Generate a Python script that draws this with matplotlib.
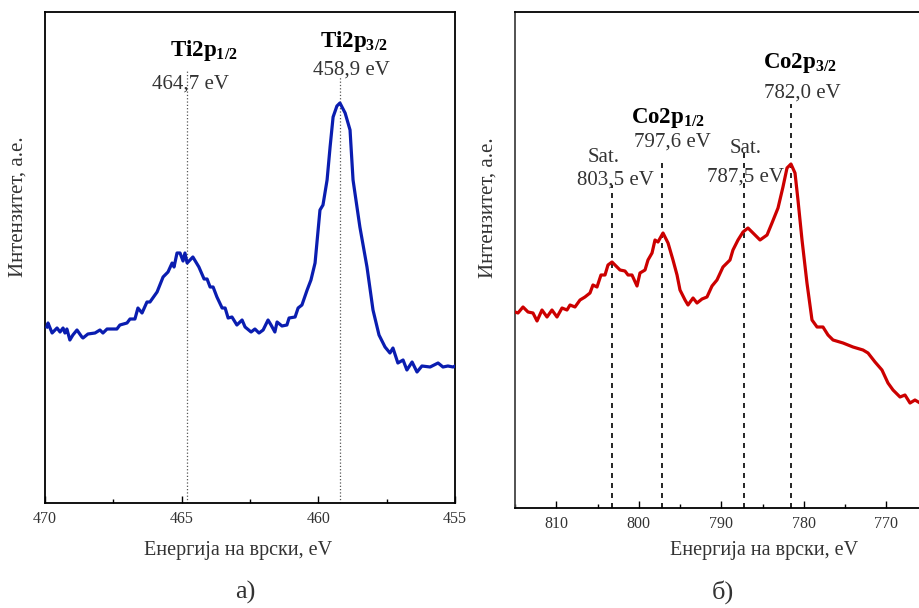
import matplotlib
matplotlib.use('Agg')
import matplotlib.pyplot as plt
from matplotlib.ticker import MultipleLocator

plt.rcParams['font.family'] = ['Liberation Serif', 'DejaVu Serif']
plt.rcParams['mathtext.fontset'] = 'custom'
plt.rcParams['mathtext.rm'] = 'Liberation Serif'
plt.rcParams['mathtext.bf'] = 'Liberation Serif:bold'

# Ti2p spectrum (binding energy, eV / intensity, a.u.)
ti_energy = [469.93, 469.89, 469.74, 469.56, 469.45, 469.34, 469.27, 469.20, 469.09, 468.98,
             468.83, 468.65, 468.61, 468.43, 468.17, 467.99, 467.88, 467.73, 467.37, 467.26,
             467.00, 466.89, 466.71, 466.60, 466.45, 466.27, 466.16, 465.90, 465.68, 465.50,
             465.35, 465.28, 465.17, 465.06, 464.95, 464.88, 464.80, 464.59, 464.37, 464.18,
             464.07, 463.96, 463.85, 463.71, 463.52, 463.41, 463.30, 463.16, 462.98, 462.79,
             462.68, 462.46, 462.32, 462.17, 462.02, 461.84, 461.73, 461.59, 461.51, 461.33,
             461.15, 461.07, 460.85, 460.74, 460.60, 460.41, 460.27, 460.12, 459.94, 459.83,
             459.68, 459.57, 459.46, 459.32, 459.21, 459.02, 458.84, 458.73, 458.48, 458.22,
             458.00, 457.78, 457.56, 457.38, 457.27, 457.09, 456.90, 456.76, 456.57, 456.39,
             456.21, 455.91, 455.62, 455.44, 455.26, 455.07, 455.00]
ti_counts = [176, 180, 170, 175, 171, 175, 170, 174, 163, 168,
             173, 166, 165, 169, 170, 173, 170, 174, 174, 178,
             180, 184, 184, 195, 190, 201, 201, 211, 226, 231,
             240, 236, 250, 250, 242, 250, 240, 246, 236, 224,
             224, 216, 216, 206, 195, 195, 185, 186, 178, 183,
             176, 171, 174, 170, 173, 183, 178, 171, 181, 177,
             178, 185, 186, 195, 198, 213, 223, 240, 293, 298,
             323, 356, 386, 397, 400, 390, 373, 323, 276, 236,
             193, 168, 156, 150, 155, 140, 143, 133, 141, 131,
             137, 136, 140, 136, 137, 136, 137]

# Co2p spectrum
co_energy = [815.00, 814.64, 814.03, 813.42, 812.82, 812.33, 811.73, 811.12, 810.52, 809.91,
             809.30, 808.70, 808.33, 807.73, 807.12, 806.52, 805.91, 805.55, 805.06, 804.58,
             804.09, 803.73, 803.24, 802.88, 802.27, 801.67, 801.30, 800.82, 800.21, 799.85,
             799.24, 798.88, 798.39, 798.03, 797.67, 797.06, 796.45, 795.85, 795.36, 795.00,
             794.39, 794.03, 793.42, 792.94, 792.33, 791.73, 791.12, 790.52, 789.79, 788.94,
             788.58, 787.97, 787.36, 786.76, 786.15, 785.30, 784.45, 783.85, 783.12, 782.52,
             782.03, 781.55, 781.06, 780.70, 780.21, 779.61, 779.00, 778.39, 777.67, 777.06,
             776.45, 775.24, 774.03, 772.82, 772.21, 771.36, 770.52, 769.79, 769.18, 768.33,
             767.73, 767.12, 766.52, 765.91]
co_counts = [196, 195, 201, 196, 195, 187, 198, 191, 198, 191,
             200, 198, 203, 201, 208, 211, 215, 223, 221, 233,
             233, 243, 246, 243, 238, 237, 233, 233, 222, 235,
             238, 248, 255, 268, 266, 275, 265, 248, 233, 218,
             208, 203, 210, 205, 209, 211, 222, 228, 241, 248,
             258, 268, 276, 280, 275, 268, 273, 285, 300, 321,
             340, 344, 335, 308, 268, 225, 188, 181, 181, 173,
             168, 165, 161, 158, 155, 146, 138, 125, 118, 111,
             113, 105, 108, 105]

ti_lines = [464.8, 459.2]
ti_line_tops = [433, 427]
co_lines = [803.3, 797.2, 787.2, 781.6]
co_line_tops = [323, 347, 356, 404]

ylabel = 'Интензитет, а.е.'
xlabel = 'Енергија на врски, eV'

fig = plt.figure(figsize=(9.2, 6.08), dpi=100)
ax1 = fig.add_axes([45/920, 105/608, 410/920, 491/608])
ax2 = fig.add_axes([515/920, 100/608, 412.5/920, 496/608])

def style(ax, major, minor):
    ax.xaxis.set_major_locator(MultipleLocator(major))
    ax.xaxis.set_minor_locator(MultipleLocator(minor))
    ax.tick_params(axis='x', which='both', direction='in', top=False,
                   labelsize=11.5, labelcolor='#333333', pad=6)
    ax.tick_params(axis='x', which='major', length=5, width=1)
    ax.tick_params(axis='x', which='minor', length=3, width=1)
    ax.set_yticks([])
    for s in ax.spines.values():
        s.set_linewidth(1.3)

# --- a) Ti2p
ax1.plot(ti_energy, ti_counts, color='#0a1db0', lw=2.3, zorder=3)
ax1.vlines(ti_lines, 0, ti_line_tops, colors='#555555', linestyles=':', lw=0.9)
ax1.set_xlim(470, 455)
ax1.set_ylim(0, 491)
style(ax1, 5, 2.5)

bold_kw = dict(ha='center', va='baseline', fontsize=16.5, fontweight='bold')
norm_kw = dict(ha='center', va='baseline', fontsize=15, color='#333333')

ax1.text(464.18, 447, r'Ti2p$_{\mathbf{1/2}}$', **bold_kw)
ax1.text(464.66, 414, '464,7 eV', **norm_kw)
ax1.text(458.69, 456, r'Ti2p$_{\mathbf{3/2}}$', **bold_kw)
ax1.text(458.80, 428, '458,9 eV', **norm_kw)

# --- б) Co2p
ax2.plot(co_energy, co_counts, color='#cc0000', lw=2.3, zorder=3)
ax2.vlines(co_lines, 0, co_line_tops, colors='black', linestyles=(0, (3, 3)), lw=1.2)
ax2.set_xlim(815, 765)
ax2.set_ylim(0, 496)
style(ax2, 10, 5)
ax2.spines['left'].set_color('#444444')

ax2.text(780.4, 440, r'Co2p$_{\mathbf{3/2}}$', **bold_kw)
ax2.text(780.2, 410, '782,0 eV', **norm_kw)
ax2.text(796.5, 385, r'Co2p$_{\mathbf{1/2}}$', **bold_kw)
ax2.text(795.9, 361, '797,6 eV', **norm_kw)
ax2.text(804.3, 346, 'Sat.', **norm_kw)
ax2.text(802.8, 323, '803,5 eV', **norm_kw)
ax2.text(787.0, 355, 'Sat.', **norm_kw)
ax2.text(787.1, 326, '787,5 eV', **norm_kw)

# axis labels and panel letters
fig.text(18/920, 1 - 207/608, ylabel, rotation=90, ha='center', va='center', fontsize=15, color='#333333')
fig.text(488/920, 1 - 208/608, ylabel, rotation=90, ha='center', va='center', fontsize=15, color='#333333')
fig.text(238/920, 1 - 550/608, xlabel, ha='center', va='center', fontsize=14.5, color='#333333')
fig.text(764/920, 1 - 550/608, xlabel, ha='center', va='center', fontsize=14.5, color='#333333')
fig.text(245/920, 1 - 592/608, 'а)', ha='center', va='center', fontsize=19, color='#333333')
fig.text(723/920, 1 - 592/608, 'б)', ha='center', va='center', fontsize=19, color='#333333')

fig.savefig('out.png', dpi=100)
